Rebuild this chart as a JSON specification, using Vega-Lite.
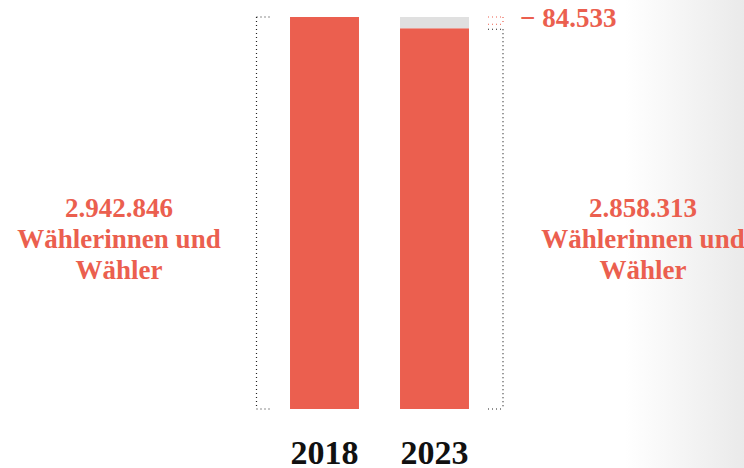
{
  "$schema": "https://vega.github.io/schema/vega-lite/v6.json",
  "width": 744,
  "height": 468,
  "autosize": {"type": "none"},
  "padding": 0,
  "background": "white",
  "title": {
    "text": "2018 / 2023",
    "anchor": "start",
    "frame": "group",
    "orient": "top",
    "offset": -8,
    "zindex": 1,
    "baseline": "alphabetic",
    "font": "Liberation Sans",
    "fontSize": 24,
    "fontWeight": "normal",
    "color": "#333333"
  },
  "datasets": {
    "bars": [
      {"year": "2018", "votes": 2942846},
      {"year": "2023", "votes": 2858313}
    ],
    "diff": [
      {"year": "2023", "from": 2858313, "to": 2942846, "label": "− 84.533"}
    ],
    "labels": [
      {"year": "2018", "votes": 2942846, "text": "2.942.846\nWählerinnen und\nWähler"},
      {"year": "2023", "votes": 2858313, "text": "2.858.313\nWählerinnen und\nWähler"}
    ]
  },
  "layer": [
    {
      "data": {"values": [{}]},
      "mark": {
        "type": "rect",
        "color": {
          "gradient": "linear",
          "x1": 0, "x2": 1, "y1": 0, "y2": 0,
          "stops": [
            {"offset": 0, "color": "rgba(234,234,234,0)"},
            {"offset": 0.84, "color": "rgba(234,234,234,0)"},
            {"offset": 1, "color": "rgba(234,234,234,1)"}
          ]
        }
      },
      "encoding": {}
    },
    {
      "data": {"name": "bars"},
      "mark": {"type": "bar", "color": "#eb5f4f"},
      "encoding": {
        "x": {
          "field": "year", "type": "nominal", "title": null, "axis": null,
          "scale": {"domain": ["2018", "2023"], "range": [269.5, 489.5], "paddingInner": 0.373, "paddingOuter": 0.1865}
        },
        "y": {
          "field": "votes", "type": "quantitative", "axis": null,
          "scale": {"domain": [0, 2942846], "range": [409, 17], "nice": false, "zero": true}
        }
      }
    },
    {
      "data": {"name": "diff"},
      "mark": {"type": "bar", "color": "#e0e0e0"},
      "encoding": {
        "x": {"field": "year", "type": "nominal"},
        "y": {"field": "from", "type": "quantitative", "axis": null},
        "y2": {"field": "to"}
      }
    },
    {
      "data": {"name": "bars"},
      "mark": {"type": "text", "color": "#111111", "align": "center", "baseline": "middle", "dy": 45,
               "font": "Liberation Serif", "fontWeight": "bold", "fontSize": 34},
      "encoding": {
        "x": {"field": "year", "type": "nominal"},
        "y": {"datum": 0, "type": "quantitative", "axis": null},
        "text": {"field": "year"}
      }
    },
    {
      "data": {"name": "bars"},
      "transform": [{"filter": "datum.year == '2018'"}],
      "layer": [
        {
          "mark": {"type": "rule", "color": "#222222", "strokeDash": [1, 3], "strokeWidth": 1.2, "xOffset": -68},
          "encoding": {
            "x": {"field": "year", "type": "nominal"},
            "y": {"field": "votes", "type": "quantitative", "axis": null},
            "y2": {"datum": 0}
          }
        },
        {
          "mark": {"type": "rule", "color": "#222222", "strokeDash": [1, 3], "strokeWidth": 1.2, "xOffset": -68, "x2Offset": -52},
          "encoding": {
            "x": {"field": "year", "type": "nominal"},
            "x2": {"field": "year"},
            "y": {"field": "votes", "type": "quantitative", "axis": null}
          }
        },
        {
          "mark": {"type": "rule", "color": "#222222", "strokeDash": [1, 3], "strokeWidth": 1.2, "xOffset": -68, "x2Offset": -52},
          "encoding": {
            "x": {"field": "year", "type": "nominal"},
            "x2": {"field": "year"},
            "y": {"datum": 0, "type": "quantitative", "axis": null}
          }
        }
      ]
    },
    {
      "data": {"name": "bars"},
      "transform": [{"filter": "datum.year == '2023'"}],
      "layer": [
        {
          "mark": {"type": "rule", "color": "#222222", "strokeDash": [1, 3], "strokeWidth": 1.2, "xOffset": 68.5, "yOffset": 1, "y2Offset": 0},
          "encoding": {
            "x": {"field": "year", "type": "nominal"},
            "y": {"field": "votes", "type": "quantitative", "axis": null},
            "y2": {"datum": 0}
          }
        },
        {
          "mark": {"type": "rule", "color": "#222222", "strokeDash": [1, 3], "strokeWidth": 1.2, "xOffset": 53.5, "x2Offset": 69, "yOffset": 1},
          "encoding": {
            "x": {"field": "year", "type": "nominal"},
            "x2": {"field": "year"},
            "y": {"field": "votes", "type": "quantitative", "axis": null}
          }
        },
        {
          "mark": {"type": "rule", "color": "#222222", "strokeDash": [1, 3], "strokeWidth": 1.2, "xOffset": 53.5, "x2Offset": 69},
          "encoding": {
            "x": {"field": "year", "type": "nominal"},
            "x2": {"field": "year"},
            "y": {"datum": 0, "type": "quantitative", "axis": null}
          }
        }
      ]
    },
    {
      "data": {"name": "diff"},
      "layer": [
        {
          "mark": {"type": "rule", "color": "#eb5f4f", "strokeDash": [1, 3], "strokeWidth": 1.2, "xOffset": 68.5, "y2Offset": -4},
          "encoding": {
            "x": {"field": "year", "type": "nominal"},
            "y": {"field": "to", "type": "quantitative", "axis": null},
            "y2": {"field": "from"}
          }
        },
        {
          "mark": {"type": "rule", "color": "#eb5f4f", "strokeDash": [1, 3], "strokeWidth": 1.2, "xOffset": 53.5, "x2Offset": 69},
          "encoding": {
            "x": {"field": "year", "type": "nominal"},
            "x2": {"field": "year"},
            "y": {"field": "to", "type": "quantitative", "axis": null}
          }
        },
        {
          "mark": {"type": "rule", "color": "#eb5f4f", "strokeDash": [1, 3], "strokeWidth": 1.2, "xOffset": 53.5, "x2Offset": 69, "yOffset": -4},
          "encoding": {
            "x": {"field": "year", "type": "nominal"},
            "x2": {"field": "year"},
            "y": {"field": "from", "type": "quantitative", "axis": null}
          }
        },
        {
          "mark": {"type": "text", "color": "#eb5f4f", "align": "left", "baseline": "middle", "dx": 85.5, "dy": 2,
                   "font": "Liberation Serif", "fontWeight": "bold", "fontSize": 27},
          "encoding": {
            "x": {"field": "year", "type": "nominal"},
            "y": {"field": "to", "type": "quantitative", "axis": null},
            "text": {"field": "label"}
          }
        }
      ]
    },
    {
      "data": {"name": "labels"},
      "transform": [{"filter": "datum.year == '2018'"}],
      "mark": {"type": "text", "color": "#eb5f4f", "align": "center", "baseline": "middle", "dx": -205.5, "dy": -4,
               "lineBreak": "\n", "lineHeight": 31, "font": "Liberation Serif", "fontWeight": "bold", "fontSize": 27},
      "encoding": {
        "x": {"field": "year", "type": "nominal"},
        "y": {"datum": 1471423, "type": "quantitative", "axis": null},
        "text": {"field": "text"}
      }
    },
    {
      "data": {"name": "labels"},
      "transform": [{"filter": "datum.year == '2023'"}],
      "mark": {"type": "text", "color": "#eb5f4f", "align": "center", "baseline": "middle", "dx": 208.5, "dy": -4,
               "lineBreak": "\n", "lineHeight": 31, "font": "Liberation Serif", "fontWeight": "bold", "fontSize": 27},
      "encoding": {
        "x": {"field": "year", "type": "nominal"},
        "y": {"datum": 1471423, "type": "quantitative", "axis": null},
        "text": {"field": "text"}
      }
    }
  ],
  "config": {
    "view": {"stroke": null},
    "axis": {"grid": false}
  }
}
